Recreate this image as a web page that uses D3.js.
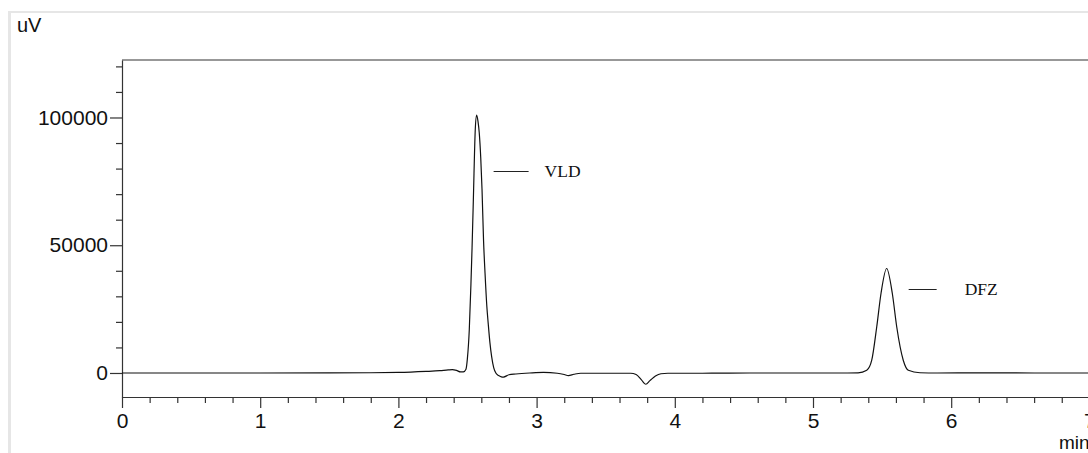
<!DOCTYPE html>
<html>
<head>
<meta charset="utf-8">
<script src="https://cdn.jsdelivr.net/npm/d3@7"></script>
<style>
  html, body { margin: 0; padding: 0; background: #fff; }
  svg { display: block; }
</style>
</head>
<body>
<div id="chart"></div>
<script>
// Chromatogram trace (time in min, signal in uV)
const times = [
  0, 1.0, 1.8, 2.0, 2.2, 2.3, 2.36, 2.39, 2.42, 2.45, 2.47,
  2.489, 2.499, 2.513, 2.525, 2.533, 2.542, 2.547, 2.556, 2.566,
  2.576, 2.585, 2.596, 2.605, 2.616, 2.627, 2.64, 2.65, 2.662, 2.675, 2.69,
  2.705, 2.725, 2.745, 2.76, 2.8, 2.85, 2.95, 3.05, 3.15, 3.2, 3.23, 3.27, 3.32,
  3.5, 3.68, 3.72, 3.76, 3.79, 3.82, 3.86, 3.9, 3.95, 4.2, 4.6, 5.0, 5.25,
  5.326, 5.389, 5.425, 5.461, 5.492, 5.533, 5.574, 5.606, 5.653, 5.69, 5.774,
  5.9, 6.2, 6.6, 7.0, 7.4
];
const signal = [
  0, 0, 100, 200, 600, 900, 1200, 1300, 1000, 400, 450,
  1500, 5500, 17000, 35000, 49000, 67000, 78000, 95000, 100900,
  98500, 94000, 84000, 72000, 52000, 38900, 26000, 19300, 12000, 6300, 2000,
  0, -1000, -1500, -1600, -700, -400, 0, 250, -100, -600, -1000, -500, -100,
  -100, -100, -600, -2800, -4400, -3000, -1200, -300, -100, -100, 0, 0, 0,
  50, 1060, 5000, 18000, 31100, 40900, 31100, 18000, 5000, 1060, 100,
  0, 50, 0, 0, 0
];

// Peak names and retention times
const peakNames = ["VLD", "DFZ"];
const peakTimes = [2.566, 5.533];

// Axis ticks
const yMajorTicks = [0, 50000, 100000];
const yMinorTicks = [10000, 20000, 30000, 40000, 60000, 70000, 80000, 90000, 110000, 120000];
const xMajorTicks = [0, 1, 2, 3, 4, 5, 6, 7];
const xMinorTicks = [0.2, 0.4, 0.6, 0.8, 1.2, 1.4, 1.6, 1.8, 2.2, 2.4, 2.6, 2.8,
  3.2, 3.4, 3.6, 3.8, 4.2, 4.4, 4.6, 4.8, 5.2, 5.4, 5.6, 5.8, 6.2, 6.4, 6.6, 6.8, 7.2];

const width = 1088;
const height = 453;
const plotLeft = 122, plotTop = 60, plotBottom = 397;

const svg = d3.select("#chart")
  .append("svg")
  .attr("width", width)
  .attr("height", height)
  .style("background-color", "#fff");

// faint grey border of the screenshot
svg.append("line")
  .attr("x1", 9.5).attr("x2", 9.5).attr("y1", 11).attr("y2", height)
  .attr("stroke", "#e6e6e6").attr("stroke-width", 3);
svg.append("line")
  .attr("x1", 8).attr("x2", width).attr("y1", 12).attr("y2", 12)
  .attr("stroke", "#e6e6e6").attr("stroke-width", 2);

const x = d3.scaleLinear().domain([0, 7.4]).range([plotLeft, plotLeft + 7.4 * 138.2]);
const y = d3.scaleLinear().domain([-9400, 122500]).range([plotBottom, plotTop]);

const font = "'Liberation Sans', Arial, sans-serif";
const axisColor = "#333";

// top frame line
svg.append("line")
  .attr("x1", plotLeft).attr("x2", width + 5)
  .attr("y1", plotTop).attr("y2", plotTop)
  .attr("stroke", axisColor).attr("stroke-width", 1.2);

// y axis: minor ticks then major (labelled) ticks
svg.append("g")
  .attr("transform", `translate(${plotLeft},0)`)
  .call(d3.axisLeft(y).tickValues(yMinorTicks).tickSize(6).tickSizeOuter(0).tickFormat(""))
  .call(g => g.select(".domain").remove())
  .selectAll("line").attr("stroke", axisColor).attr("stroke-width", 1.2);

const yAxis = svg.append("g")
  .attr("transform", `translate(${plotLeft},0)`)
  .call(d3.axisLeft(y).tickValues(yMajorTicks).tickSize(12).tickSizeOuter(0)
    .tickPadding(2).tickFormat(d3.format("d")));
yAxis.select(".domain").attr("stroke", axisColor).attr("stroke-width", 1.2);
yAxis.selectAll("line").attr("stroke", axisColor).attr("stroke-width", 1.2);
yAxis.selectAll("text")
  .style("font-family", font).style("font-size", "21px").attr("fill", "#111");

// x axis
svg.append("g")
  .attr("transform", `translate(0,${plotBottom})`)
  .call(d3.axisBottom(x).tickValues(xMinorTicks).tickSize(6).tickSizeOuter(0).tickFormat(""))
  .call(g => g.select(".domain").remove())
  .selectAll("line").attr("stroke", axisColor).attr("stroke-width", 1.2);

const xAxis = svg.append("g")
  .attr("transform", `translate(0,${plotBottom})`)
  .call(d3.axisBottom(x).tickValues(xMajorTicks).tickSize(11).tickSizeOuter(0)
    .tickPadding(5).tickFormat(d3.format("d")));
xAxis.select(".domain").attr("stroke", axisColor).attr("stroke-width", 1.2);
xAxis.selectAll("line").attr("stroke", axisColor).attr("stroke-width", 1.2);
xAxis.selectAll("text")
  .style("font-family", font).style("font-size", "21px").attr("fill", "#111");

// axis units (the reference screenshot cuts "min" at the right edge)
svg.append("text")
  .attr("x", 17).attr("y", 32)
  .style("font-family", font).style("font-size", "20px").attr("fill", "#111")
  .text("uV");
svg.append("text")
  .attr("x", 1059).attr("y", 449)
  .style("font-family", font).style("font-size", "19px").attr("fill", "#111")
  .text("min");

// the trace
const points = times.map((t, i) => ({ t: t, v: signal[i] }));
const line = d3.line()
  .x(d => x(d.t))
  .y(d => y(d.v))
  .curve(d3.curveMonotoneX);

svg.append("path")
  .datum(points)
  .attr("fill", "none")
  .attr("stroke", "#111")
  .attr("stroke-width", 1.2)
  .attr("d", line);

// peak labels: a short dash and the name, placed right of each peak
const labelLayout = [
  { gap: 17, len: 35, textGap: 16, level: 79000 },
  { gap: 22, len: 28, textGap: 28, level: 32700 }
];

peakNames.forEach((name, i) => {
  const lay = labelLayout[i];
  const x0 = x(peakTimes[i]) + lay.gap;
  const ly = Math.round(y(lay.level)) + 0.5;
  svg.append("line")
    .attr("x1", x0).attr("x2", x0 + lay.len)
    .attr("y1", ly).attr("y2", ly)
    .attr("stroke", "#222").attr("stroke-width", 1);
  svg.append("text")
    .attr("x", x0 + lay.len + lay.textGap)
    .attr("y", ly + 5)
    .style("font-family", "'Liberation Serif', 'Times New Roman', serif")
    .style("font-size", "17.5px")
    .attr("fill", "#111")
    .text(name);
});
</script>
</body>
</html>
